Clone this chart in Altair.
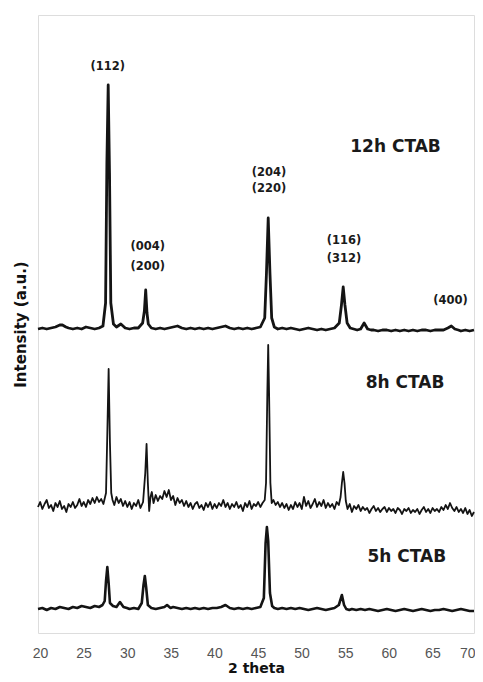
import altair as alt
import pandas as pd

# ---------------- data ----------------
tick_values = [20, 25, 30, 35, 40, 45, 50, 55, 60, 65, 70]
samples = ["12h CTAB", "8h CTAB", "5h CTAB"]

# (2theta, intensity in arbitrary units; traces are stacked with their offsets)
spectrum_12h = [
    (20, 304), (20.5, 305), (21, 304), (21.5, 305), (22, 306), (22.5, 308), (22.8, 308),
    (23.2, 306), (23.5, 305), (24, 304), (24.5, 305), (25, 304), (25.5, 306), (26, 305),
    (26.5, 304), (27, 305), (27.45, 307), (27.75, 330), (27.9, 470), (28.05, 548),
    (28.2, 460), (28.35, 330), (28.65, 309), (29, 306), (29.5, 309), (30, 305), (30.5, 304),
    (31, 305), (31.5, 305), (32.0, 310), (32.2, 322), (32.35, 343), (32.5, 320), (32.65, 309),
    (33, 305), (33.5, 304), (34, 305), (34.5, 304), (35, 305), (35.5, 306), (36, 307),
    (36.5, 305), (37, 304), (37.5, 305), (38, 304), (38.5, 305), (39, 304), (39.5, 305),
    (40, 304), (40.5, 305), (41, 306), (41.5, 307), (42, 305), (42.5, 304), (43, 305),
    (43.5, 304), (44, 305), (44.5, 304), (45, 305), (45.5, 306), (46.0, 315), (46.2, 360),
    (46.4, 415), (46.6, 360), (46.8, 315), (47.1, 306), (47.5, 304), (48, 305), (48.5, 304),
    (49, 305), (49.5, 304), (50, 303), (50.5, 304), (51, 305), (51.5, 304), (52, 303),
    (52.5, 304), (53, 303), (53.5, 304), (54, 305), (54.55, 310), (54.8, 328), (55.0, 346),
    (55.2, 328), (55.45, 310), (55.8, 305), (56.2, 304), (56.6, 303), (57, 304), (57.4, 310),
    (57.8, 304), (58.2, 303), (58.5, 303), (59, 302), (59.5, 303), (60, 303), (60.5, 302),
    (61, 303), (61.5, 302), (62, 303), (62.5, 302), (63, 303), (63.5, 302), (64, 303),
    (64.5, 303), (65, 302), (65.5, 303), (66, 303), (66.5, 303), (67, 305), (67.4, 307),
    (67.8, 304), (68.2, 303), (68.5, 302), (69, 303), (69.5, 302), (70, 303),
]

spectrum_8h = [
    (20.0, 126), (20.25, 131), (20.5, 124), (20.75, 129), (21.0, 133), (21.25, 125),
    (21.5, 128), (21.75, 122), (22.0, 130), (22.25, 126), (22.5, 132), (22.75, 124),
    (23.0, 127), (23.25, 121), (23.5, 129), (23.75, 126), (24.0, 131), (24.25, 125),
    (24.5, 128), (24.75, 134), (25.0, 127), (25.25, 131), (25.5, 126), (25.75, 133),
    (26.0, 129), (26.25, 135), (26.5, 130), (26.75, 136), (27.0, 131), (27.25, 134),
    (27.5, 129), (27.8, 140), (27.95, 200), (28.1, 264), (28.25, 190), (28.4, 140),
    (28.55, 133), (28.75, 128), (29.0, 136), (29.25, 130), (29.5, 134), (29.75, 127),
    (30.0, 132), (30.25, 126), (30.5, 131), (30.75, 124), (31.0, 130), (31.25, 127),
    (31.5, 133), (31.75, 125), (32.05, 131), (32.3, 160), (32.45, 189), (32.6, 150),
    (32.75, 122), (32.9, 136), (33.05, 141), (33.25, 130), (33.5, 138), (33.75, 132),
    (34.0, 137), (34.25, 134), (34.5, 142), (34.75, 136), (35.0, 143), (35.25, 133),
    (35.5, 137), (35.75, 128), (36.0, 135), (36.25, 130), (36.5, 133), (36.75, 127),
    (37.0, 132), (37.25, 126), (37.5, 130), (37.75, 124), (38.0, 129), (38.25, 131),
    (38.5, 125), (38.75, 128), (39.0, 123), (39.25, 130), (39.5, 126), (39.75, 131),
    (40.0, 124), (40.25, 129), (40.5, 125), (40.75, 130), (41.0, 127), (41.25, 133),
    (41.5, 126), (41.75, 130), (42.0, 124), (42.25, 129), (42.5, 126), (42.75, 131),
    (43.0, 125), (43.25, 128), (43.5, 122), (43.75, 130), (44.0, 126), (44.25, 132),
    (44.5, 124), (44.75, 129), (45.0, 127), (45.25, 131), (45.5, 126), (45.75, 130),
    (46.0, 133), (46.15, 150), (46.3, 240), (46.4, 288), (46.5, 240), (46.65, 150),
    (46.8, 130), (47.0, 133), (47.25, 128), (47.5, 131), (47.75, 126), (48.0, 130),
    (48.25, 125), (48.5, 129), (48.75, 123), (49.0, 128), (49.25, 124), (49.5, 131),
    (49.75, 126), (50.0, 130), (50.25, 124), (50.5, 136), (50.75, 127), (51.0, 132),
    (51.25, 125), (51.5, 129), (51.75, 134), (52.0, 126), (52.25, 131), (52.5, 127),
    (52.75, 133), (53.0, 125), (53.25, 130), (53.5, 126), (53.75, 129), (54.0, 124),
    (54.25, 131), (54.5, 128), (54.7, 136), (54.85, 150), (55.0, 161), (55.15, 150),
    (55.3, 132), (55.5, 124), (55.75, 129), (56.0, 121), (56.25, 127), (56.5, 124),
    (56.75, 128), (57.0, 122), (57.25, 126), (57.5, 123), (57.75, 125), (58.0, 120),
    (58.25, 124), (58.5, 127), (58.75, 122), (59.0, 125), (59.25, 121), (59.5, 124),
    (59.75, 126), (60.0, 121), (60.25, 125), (60.5, 122), (60.75, 124), (61.0, 120),
    (61.25, 125), (61.5, 123), (61.75, 119), (62.0, 124), (62.25, 122), (62.5, 125),
    (62.75, 120), (63.0, 123), (63.25, 121), (63.5, 124), (63.75, 119), (64.0, 123),
    (64.25, 126), (64.5, 121), (64.75, 124), (65.0, 120), (65.25, 125), (65.5, 122),
    (65.75, 124), (66.0, 121), (66.25, 126), (66.5, 123), (66.75, 128), (67.0, 124),
    (67.25, 130), (67.5, 125), (67.75, 122), (68.0, 126), (68.25, 121), (68.5, 124),
    (68.75, 120), (69.0, 125), (69.25, 119), (69.5, 123), (69.75, 117), (70.0, 121),
]

spectrum_5h = [
    (20, 24), (20.5, 25), (21, 23), (21.5, 25), (22, 24), (22.5, 26), (23, 25), (23.5, 24),
    (24, 26), (24.5, 25), (25, 27), (25.5, 26), (26, 25), (26.5, 27), (27, 26), (27.4, 28),
    (27.65, 32), (27.8, 52), (27.95, 66), (28.1, 50), (28.25, 30), (28.6, 27), (29.0, 26),
    (29.4, 31), (29.8, 26), (30.2, 25), (30.5, 24), (31, 25), (31.5, 24), (31.9, 30),
    (32.1, 48), (32.25, 57), (32.4, 46), (32.6, 28), (33, 25), (33.5, 24), (34, 25),
    (34.5, 26), (34.8, 28), (35.2, 25), (35.5, 26), (36, 25), (36.5, 24), (37, 25),
    (37.5, 24), (38, 25), (38.5, 24), (39, 25), (39.5, 24), (40, 25), (40.5, 25), (41, 26),
    (41.5, 28), (42, 25), (42.5, 24), (43, 25), (43.5, 24), (44, 25), (44.5, 24), (45, 25),
    (45.5, 26), (45.9, 35), (46.1, 90), (46.25, 106), (46.4, 92), (46.6, 40), (46.85, 27),
    (47.1, 25), (47.5, 24), (48, 25), (48.5, 24), (49, 25), (49.5, 24), (50, 25),
    (50.5, 24), (51, 23), (51.5, 24), (52, 25), (52.5, 24), (53, 23), (53.5, 24), (54, 25),
    (54.5, 28), (54.85, 38), (55.1, 28), (55.35, 24), (55.7, 23), (56, 24), (56.5, 23),
    (57, 24), (57.5, 23), (58, 24), (58.5, 23), (59, 22), (59.5, 23), (60, 24), (60.5, 23),
    (61, 22), (61.5, 23), (62, 24), (62.5, 23), (63, 22), (63.5, 23), (64, 24), (64.5, 23),
    (65, 22), (65.5, 23), (66, 23), (66.5, 24), (67, 23), (67.5, 22), (68, 23), (68.5, 24),
    (69, 23), (69.5, 22), (70, 22),
]

hkl_labels = ["(112)", "(004)", "(200)", "(204)", "(220)", "(116)", "(312)", "(400)"]
hkl_two_theta = [28.0, 32.6, 32.6, 46.5, 46.5, 55.1, 55.1, 67.3]
hkl_intensity = [566, 386, 366, 460, 444, 392, 374, 332]

sample_label_two_theta = [61.0, 62.1, 62.3]
sample_label_intensity = [486, 250, 76]

# ---------------- build tables ----------------
rows = []
for name, spec in [("12h CTAB", spectrum_12h), ("8h CTAB", spectrum_8h),
                   ("5h CTAB", spectrum_5h)]:
    for i, (x, y) in enumerate(spec):
        rows.append({"sample": name, "two_theta": x, "intensity": y, "idx": i})
df = pd.DataFrame(rows)

hkl_df = pd.DataFrame({"label": hkl_labels, "two_theta": hkl_two_theta,
                       "intensity": hkl_intensity})
sample_df = pd.DataFrame({"label": samples, "two_theta": sample_label_two_theta,
                          "intensity": sample_label_intensity})

x_scale = alt.Scale(domain=[20, 70], nice=False, zero=False)
y_scale = alt.Scale(domain=[0, 618], nice=False)

x_enc = alt.X("two_theta:Q", scale=x_scale,
              axis=alt.Axis(values=tick_values, title="2 theta", grid=False, ticks=False,
                            domain=False, labelFont="Liberation Sans", labelFontSize=14,
                            labelColor="#555555", labelPadding=13,
                            labelAlign=alt.condition("datum.value == 70", alt.value("right"),
                                                     alt.value("center")),
                            labelOffset=alt.condition("datum.value == 70", alt.value(1),
                                                      alt.value(2)),
                            titleFont="DejaVu Sans",
                            titleFontSize=14, titleFontWeight="bold", titleColor="#111111",
                            titlePadding=1, labelFlush=False))
y_enc = alt.Y("intensity:Q", scale=y_scale,
              axis=alt.Axis(title="Intensity (a.u.)", labels=False, ticks=False, grid=False,
                            domain=False, titleFont="DejaVu Sans", titleFontSize=15,
                            titleFontWeight="bold", titleColor="#111111", titlePadding=10))

base = alt.Chart(df)
lines = []
for name, sw in [("12h CTAB", 2.8), ("8h CTAB", 1.8), ("5h CTAB", 2.6)]:
    lines.append(
        base.transform_filter(alt.datum.sample == name)
        .mark_line(color="#141414", strokeWidth=sw, strokeJoin="round")
        .encode(x=x_enc, y=y_enc, order="idx:Q")
    )

hkl_text = alt.Chart(hkl_df).mark_text(
    font="DejaVu Sans", fontWeight="bold", fontSize=11.5, color="#1a1a1a",
    align="center", baseline="middle"
).encode(x=alt.X("two_theta:Q", scale=x_scale), y=alt.Y("intensity:Q", scale=y_scale),
         text="label:N")

sample_text = alt.Chart(sample_df).mark_text(
    font="DejaVu Sans", fontWeight="bold", fontSize=17, color="#1a1a1a",
    align="center", baseline="middle"
).encode(x=alt.X("two_theta:Q", scale=x_scale), y=alt.Y("intensity:Q", scale=y_scale),
         text="label:N")

chart = alt.layer(*lines, hkl_text, sample_text).properties(
    width=436, height=618,
    autosize=alt.AutoSizeParams(type="none"),
    padding={"left": 30, "top": 7, "right": 1, "bottom": 41},
).configure_view(stroke="#8c8c8c", strokeWidth=1.2).configure(background="white")

chart.save("out.html", embed_options={"renderer": "svg", "actions": False})
